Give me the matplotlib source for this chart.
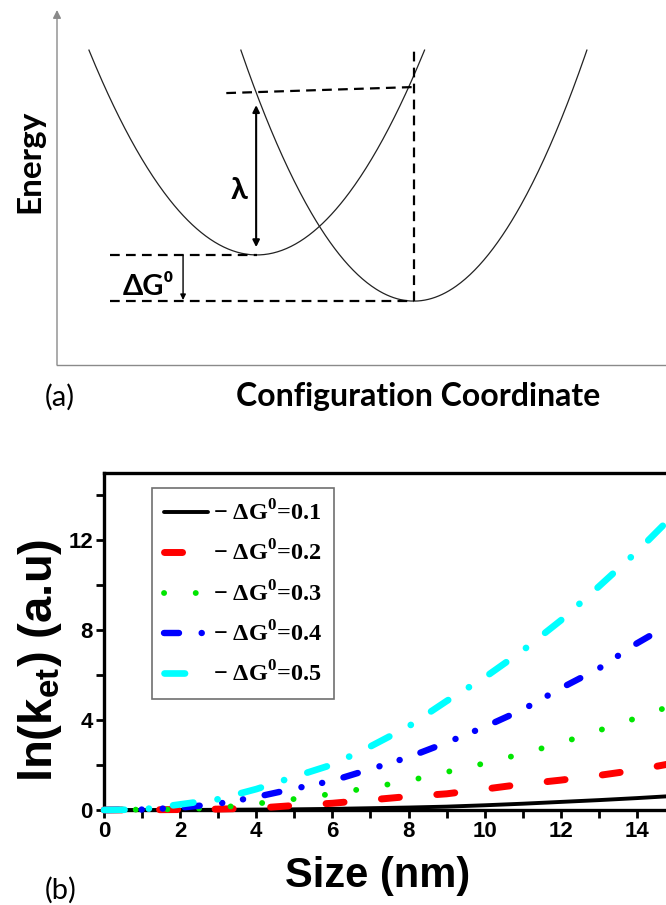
import numpy as np
import matplotlib
matplotlib.use('Agg')
import matplotlib.pyplot as plt

plt.rcParams['lines.scale_dashes'] = False
plt.rcParams['mathtext.fontset'] = 'custom'
plt.rcParams['mathtext.rm'] = 'Liberation Serif:bold'
plt.rcParams['mathtext.sf'] = 'Liberation Sans:bold'

# ---------------- panel (b) data ----------------
size_nm = [0, 1, 2, 3, 4, 5, 6, 7, 8, 9, 10, 11, 12, 13, 14, 15]
ln_ket_01 = [0, 0, 0, 0.01, 0.02, 0.03, 0.05, 0.08, 0.11, 0.15, 0.21, 0.28, 0.36, 0.44, 0.53, 0.63]
ln_ket_02 = [0, 0.01, 0.02, 0.04, 0.08, 0.2, 0.3, 0.45, 0.6, 0.72, 0.93, 1.15, 1.33, 1.54, 1.78, 2.1]
ln_ket_03 = [0, 0.02, 0.03, 0.1, 0.28, 0.49, 0.72, 1.0, 1.3, 1.69, 2.08, 2.51, 2.98, 3.54, 4.1, 4.7]
ln_ket_04 = [0, 0.02, 0.1, 0.28, 0.58, 0.95, 1.3, 1.82, 2.35, 3.0, 3.7, 4.47, 5.42, 6.3, 7.42, 8.4]
ln_ket_05 = [0, 0.02, 0.25, 0.48, 0.93, 1.48, 2.02, 2.83, 3.72, 4.85, 5.9, 7.1, 8.44, 9.95, 11.5, 13.2]
dg_values = ['0.1', '0.2', '0.3', '0.4', '0.5']
xtick_labels = ['0', '2', '4', '6', '8', '10', '12', '14']
ytick_labels = ['0', '4', '8', '12']

# ---------------- panel (a) schematic parameters ----------------
q_left, E_left, k_left = 3.28, 3.10, 0.76
q_right, E_right, k_right = 5.86, 1.80, 0.876
E_top = 8.87
lam_q, lam_lo, lam_hi = 3.27, 3.32, 7.32
top_dash_q = [2.78, 5.86]
top_dash_E = [7.66, 7.83]
dash_q0 = 0.87
dg_arrow_q = 2.07


def fx(px):
    return px / 666.0


def fy(py):
    return 1 - py / 905.0


fig = plt.figure(figsize=(6.66, 9.05), dpi=100)

# ---------------- panel (a) ----------------
axa = fig.add_axes([fx(57), fy(365), fx(666) - fx(57), fy(10) - fy(365)])
axa.set_xlim(0, 10)
axa.set_ylim(0, 10)
axa.axis('off')
axis_col = '#8a8a8a'
axa.annotate('', xy=(0, 10), xytext=(0, 0),
             arrowprops=dict(arrowstyle='-|>', color=axis_col, lw=1.0, mutation_scale=12, shrinkA=0, shrinkB=0),
             annotation_clip=False)
axa.plot([0, 10.5], [0, 0], color=axis_col, lw=1.0, clip_on=False)

for q0, E0, k in [(q_left, E_left, k_left), (q_right, E_right, k_right)]:
    w = np.sqrt((E_top - E0) / k)
    q = np.linspace(q0 - w, q0 + w, 300)
    axa.plot(q, E0 + k * (q - q0) ** 2, color='#222222', lw=0.9)

dash_style = dict(color='black', lw=1.6, linestyle=(0, (7, 4.5)))
axa.plot([q_right, q_right], [E_right, E_top], **dash_style)
axa.plot(top_dash_q, top_dash_E, **dash_style)
axa.plot([dash_q0, q_left], [E_left, E_left], **dash_style)
axa.plot([dash_q0, q_right], [E_right, E_right], **dash_style)

axa.annotate('', xy=(lam_q, lam_hi), xytext=(lam_q, lam_lo),
             arrowprops=dict(arrowstyle='<|-|>', color='black', lw=1.5, mutation_scale=10, shrinkA=0, shrinkB=0))
axa.annotate('', xy=(dg_arrow_q, E_right + 0.03), xytext=(dg_arrow_q, E_left),
             arrowprops=dict(arrowstyle='-|>', color='black', lw=1.0, mutation_scale=8, shrinkA=0, shrinkB=0))

fig.text(fx(247), fy(190), 'λ', fontsize=22, fontweight='bold', family=['Lato', 'DejaVu Sans'],
         ha='right', va='center')
fig.text(fx(148), fy(287), 'ΔG⁰', fontsize=21, fontweight='bold', family=['Lato', 'DejaVu Sans'],
         ha='center', va='center')
fig.text(fx(30), fy(161), 'Energy', fontsize=24, fontweight='bold', family='Lato',
         rotation=90, ha='center', va='center')
fig.text(fx(45), fy(397), '(a)', fontsize=21, family='Lato', ha='left', va='center')
fig.text(fx(418), fy(396), 'Configuration Coordinate', fontsize=23, fontweight='bold', family='Lato',
         ha='center', va='center')

# ---------------- panel (b) ----------------
axb = fig.add_axes([fx(104), fy(810), 16 * 38.07 / 666.0, fy(473) - fy(810)])

styles = [
    dict(color='black', lw=2.8, linestyle='-'),
    dict(color='#ff0000', lw=5.0, linestyle=(0, (13, 27))),
    dict(color='#00e600', lw=4.2, linestyle=(0, (0.1, 22.7))),
    dict(color='#0000ff', lw=4.6, linestyle=(0, (10.8, 16.3, 0.1, 15.1, 0.1, 15.8))),
    dict(color='#00ffff', lw=4.8, linestyle=(0, (14.8, 17.5, 0.1, 17.5))),
]
series = [ln_ket_01, ln_ket_02, ln_ket_03, ln_ket_04, ln_ket_05]
for vals, st, dg in zip(series, styles, dg_values):
    axb.plot(size_nm, vals, label='− ΔG$^{\\mathrm{0}}$=' + dg, dash_capstyle='round',
             solid_capstyle='round', clip_on=False, zorder=3, **st)

axb.set_xlim(0, 16)
axb.set_ylim(0, 15)
axb.set_xticks(np.arange(0, 15, 2), labels=xtick_labels, fontweight='bold', family='Liberation Sans', fontsize=16)
axb.set_yticks(np.arange(0, 13, 4), labels=ytick_labels, fontweight='bold', family='Liberation Sans', fontsize=16)
axb.set_xticks(np.arange(1, 16, 2), minor=True)
axb.set_yticks([2, 6, 10, 14], minor=True)
axb.tick_params(which='both', direction='out', width=2, length=6, pad=2)
for sp in axb.spines.values():
    sp.set_linewidth(2.4)

fig.text(fx(40), fy(660), 'ln(k$_{\\mathsf{et}}$) (a.u)', fontsize=34, fontweight='bold',
         family='Liberation Sans', rotation=90, ha='center', va='center')
fig.text(fx(378), fy(876), 'Size (nm)', fontsize=30, fontweight='bold', family='Liberation Sans',
         ha='center', va='center')
fig.text(fx(45), fy(890), '(b)', fontsize=21, family='Lato', ha='left', va='center')

leg = axb.legend(loc='upper left', bbox_to_anchor=(fx(152), fy(488)), bbox_transform=fig.transFigure,
                 borderaxespad=0, prop=dict(family='Liberation Serif', weight='bold', size=17.5),
                 handlelength=1.8, handletextpad=0.2, labelspacing=0.62, borderpad=0.5,
                 fancybox=False, framealpha=1, edgecolor='#707070')
leg.get_frame().set_linewidth(1.2)

fig.savefig('out.png', dpi=100)
